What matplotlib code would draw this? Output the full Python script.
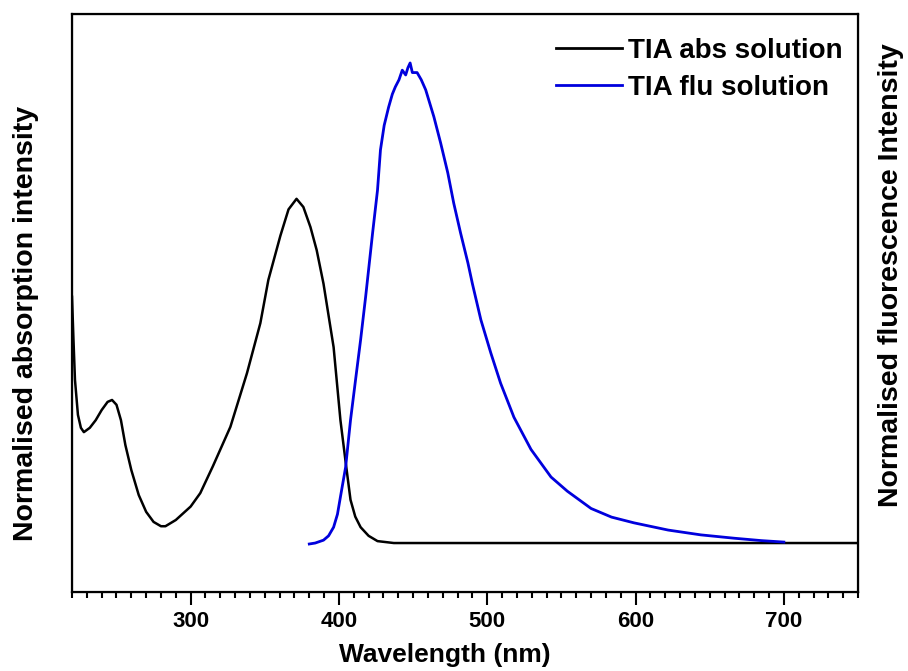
import matplotlib
matplotlib.use('Agg')
from matplotlib import pyplot as plt
from matplotlib.ticker import MultipleLocator

plt.rcParams['font.family'] = ['Liberation Sans', 'DejaVu Sans']
plt.rcParams['font.weight'] = 'bold'

# absorption (normalised)
abs_wl = [220, 221, 222, 224, 226, 228, 232, 236, 240, 244, 247, 250, 253, 256,
          260, 265, 270, 275, 280, 283, 290, 300, 306.5, 315, 326.8, 338, 347,
          352.4, 360.5, 366, 371.4, 376, 380.8, 385, 389.6, 396.4, 401, 404.5,
          407.8, 411, 414.6, 420, 426, 437, 500, 600, 750]
abs_val = [0.513, 0.423, 0.34, 0.267, 0.24, 0.231, 0.24, 0.256, 0.277, 0.294,
           0.298, 0.288, 0.256, 0.204, 0.152, 0.10, 0.065, 0.044, 0.035, 0.035,
           0.048, 0.076, 0.104, 0.16, 0.242, 0.354, 0.458, 0.548, 0.64, 0.695,
           0.717, 0.70, 0.658, 0.61, 0.54, 0.408, 0.256, 0.169, 0.09, 0.055,
           0.033, 0.015, 0.004, 0.0, 0.0, 0.0, 0.0]

# fluorescence (normalised)
flu_wl = [380, 384, 389.6, 393, 396.4, 399, 401, 404.5, 407.8, 411.2, 414.6, 418,
          422.7, 426, 428, 430.5, 433.5, 436, 438, 440.5, 442.7, 445, 446.5,
          448, 449.5, 452.7, 455.5, 458.5, 464, 468.6, 473.4, 477.4, 482, 487,
          490, 495.7, 502.4, 509, 518, 529.5, 543, 554, 570, 583.8, 599, 622,
          644, 666.6, 685, 700]
flu_val = [-0.002, 0.0, 0.006, 0.015, 0.033, 0.06, 0.096, 0.158, 0.256, 0.34,
           0.423, 0.513, 0.646, 0.735, 0.819, 0.87, 0.908, 0.935, 0.95, 0.965,
           0.985, 0.975, 0.99, 1.0, 0.98, 0.98, 0.965, 0.944, 0.888, 0.833,
           0.771, 0.708, 0.646, 0.583, 0.54, 0.465, 0.396, 0.333, 0.262, 0.195,
           0.1375, 0.108, 0.072, 0.054, 0.042, 0.027, 0.017, 0.010, 0.005, 0.002]

fig = plt.figure(figsize=(9.08, 6.71), dpi=100)
ax = fig.add_axes([72 / 908, 79 / 671, 786 / 908, 578 / 671])

ax.plot(abs_wl, abs_val, color='black', lw=1.8, label='TIA abs solution')
ax.plot(flu_wl, flu_val, color='#0000dd', lw=2.0, label='TIA flu solution')

ax.set_xlim(220, 750)
ax.set_ylim(-0.102, 1.102)
ax.set_yticks([])
ax.xaxis.set_major_locator(MultipleLocator(100))
ax.xaxis.set_minor_locator(MultipleLocator(10))
ax.tick_params(axis='x', which='major', direction='out', length=9, width=1.5,
               labelsize=16, pad=5)
ax.tick_params(axis='x', which='minor', direction='out', length=4, width=1.5)
for s in ax.spines.values():
    s.set_linewidth(1.6)

ax.set_xlabel('Wavelength (nm)', fontsize=19, fontweight='bold')
ax.xaxis.set_label_coords(0.4746, -0.088)
ax.set_ylabel('Normalised absorption intensity', fontsize=20.5, fontweight='bold')
ax.yaxis.set_label_coords(-0.042, 0.465)

ax2 = ax.twinx()
ax2.set_ylim(-0.102, 1.102)
ax2.set_yticks([])
ax2.set_ylabel('Normalised fluorescence Intensity', fontsize=20.5, fontweight='bold')
ax2.yaxis.set_label_coords(1.0254, 0.548)

leg = ax.legend(loc='upper right', bbox_to_anchor=(1.012, 1.002), frameon=False,
                prop={'size': 20, 'weight': 'bold'}, handlelength=2.4,
                handletextpad=0.2, labelspacing=0.4)
for h in leg.get_lines():
    h.set_linewidth(2)

fig.savefig('out.png', dpi=100)
